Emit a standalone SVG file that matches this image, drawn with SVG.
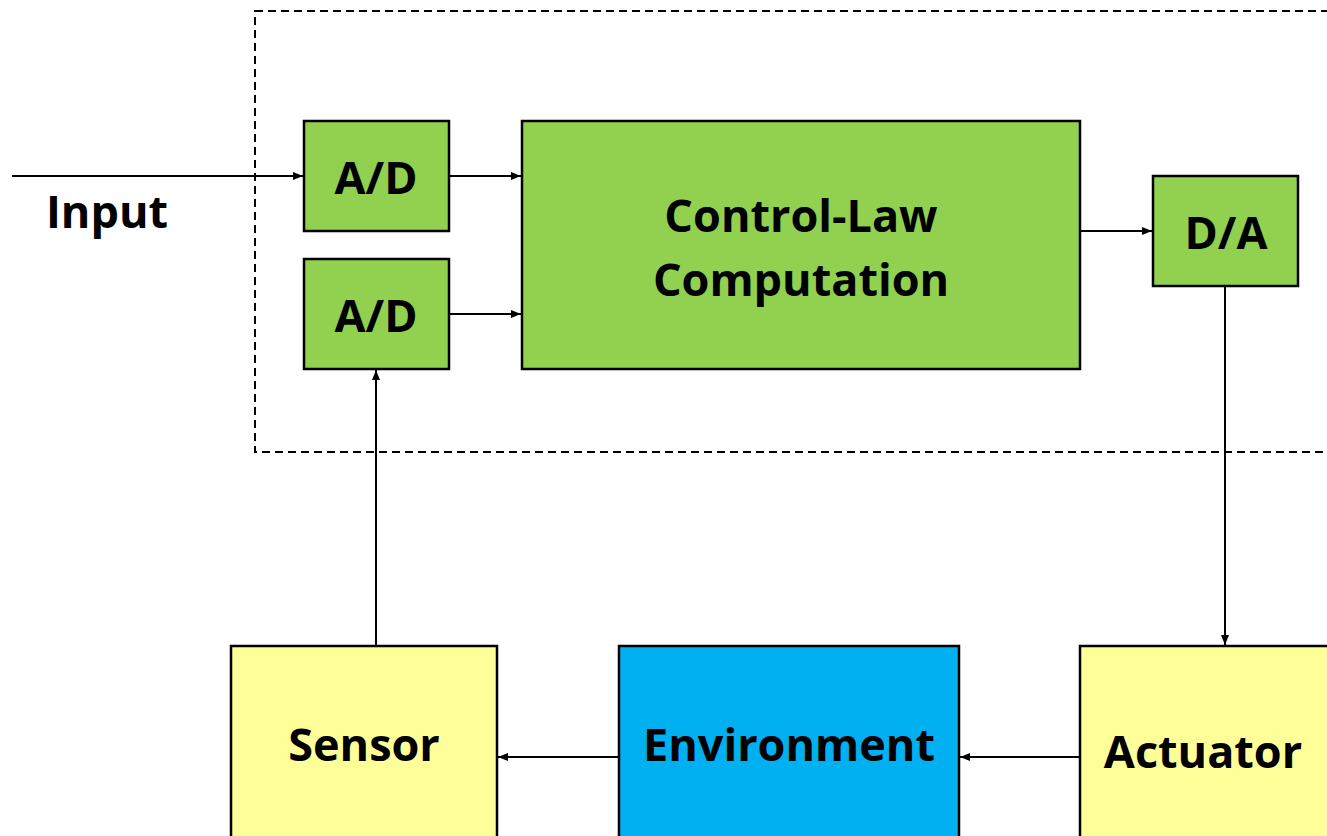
<svg xmlns="http://www.w3.org/2000/svg" width="1327" height="836" viewBox="0 0 1327 836">
<style>
.g{fill:#92d050;stroke:#000;stroke-width:2.5}
.y{fill:#ffff99;stroke:#000;stroke-width:2.5}
.b{fill:#00b0f0;stroke:#000;stroke-width:2.5}
text{font-family:"Open Sans","Liberation Sans",sans-serif;font-weight:bold;font-size:45px;fill:#000;text-anchor:middle}
.c{fill:none;stroke:#000;stroke-width:2}
</style>
<defs>
<marker id="ah" markerWidth="10" markerHeight="8" refX="10" refY="4" orient="auto" markerUnits="userSpaceOnUse">
<path d="M0,0 L10,4 L0,8 z" fill="#000"/>
</marker>
</defs>
<rect x="255" y="11" width="1100" height="441" fill="none" stroke="#000" stroke-width="2" stroke-dasharray="8,5"/>
<g id="connectors">
<line class="c" x1="12" y1="176" x2="303" y2="176" marker-end="url(#ah)"/>
<line class="c" x1="450" y1="176" x2="521" y2="176" marker-end="url(#ah)"/>
<line class="c" x1="450" y1="314" x2="521" y2="314" marker-end="url(#ah)"/>
<line class="c" x1="1081" y1="231" x2="1152" y2="231" marker-end="url(#ah)"/>
<line class="c" x1="1225" y1="287" x2="1225" y2="645" marker-end="url(#ah)"/>
<line class="c" x1="1079" y1="757" x2="960" y2="757" marker-end="url(#ah)"/>
<line class="c" x1="618" y1="757" x2="498" y2="757" marker-end="url(#ah)"/>
<line class="c" x1="376" y1="645" x2="376" y2="370" marker-end="url(#ah)"/>
</g>
<g id="input-label"><text x="107" y="228">Input</text></g>
<g id="ad1"><rect class="g" x="304" y="121" width="145" height="110"/><text x="376" y="194">A/D</text></g>
<g id="ad2"><rect class="g" x="304" y="259" width="145" height="110"/><text x="376" y="332">A/D</text></g>
<g id="control"><rect class="g" x="522" y="121" width="558" height="248"/><text x="801" y="232">Control-Law</text><text x="801" y="296">Computation</text></g>
<g id="da"><rect class="g" x="1153" y="176" width="145" height="110"/><text x="1226" y="249">D/A</text></g>
<g id="sensor"><rect class="y" x="231" y="646" width="266" height="210"/><text x="364" y="761">Sensor</text></g>
<g id="environment"><rect class="b" x="619" y="646" width="340" height="210"/><text x="789" y="761">Environment</text></g>
<g id="actuator"><rect class="y" x="1080" y="646" width="280" height="210"/><text x="1203" y="768">Actuator</text></g>
</svg>
